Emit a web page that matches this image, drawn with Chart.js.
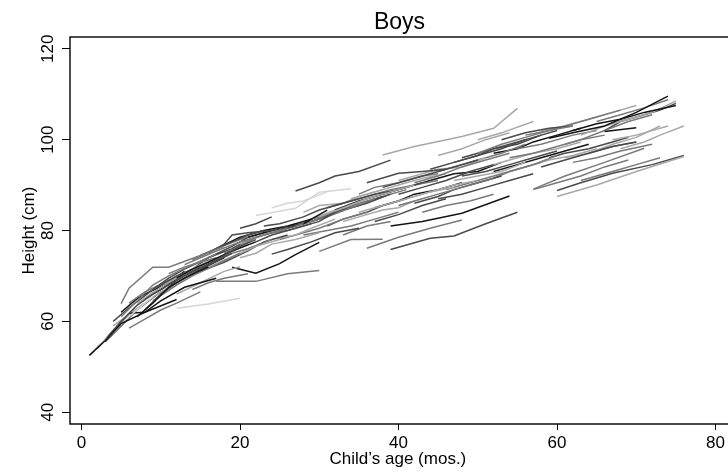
<!DOCTYPE html>
<html>
<head>
<meta charset="utf-8">
<script src="https://cdn.jsdelivr.net/npm/chart.js@4.4.1/dist/chart.umd.min.js"></script>
<style>
html,body{margin:0;padding:0;background:#fff;overflow:hidden;}
#wrap{width:728px;height:473px;}
</style>
</head>
<body>
<div id="wrap"><canvas id="c" width="728" height="473"></canvas></div>
<script>
const chartTitle = "Boys";
const xTitle = "Child\u2019s age (mos.)";
const yTitle = "Height (cm)";
const xTicks = [0, 20, 40, 60, 80];
const yTicks = [40, 60, 80, 100, 120];

// ages (months) of each child's measurements
const childAges = [
  [1,3,5,8,12],[1,2,4,6,9],[3,5,7,9,12,15],[5,7,9,11,14,17],[6,8,10,12,15],
  [5,6,9,11,15,18],[6,8,10,13,17],[7,9,11,13,16],[8,10,12,15,19],[9,12,14,17,20],
  [4,6,8,10,13],[10,12,14,17,20,22],[12,14,16,19,22],[13,15,17,20,23,26],[14,16,18,21],
  [16,18,20,22,25],[12,15,18,20],[15,17,19,21,23],[16,18,19,21,24,27],[18,20,22,25,28],
  [11,13,15,17],[20,22,24,27,30],[19,22,25,27,30],[17,22,26,30],[12,16,20],
  [22,24,27,30,32],[21,23,25,28,31],[22,27,30,34],[24,26,29,32,35],[25,28,31,34,37],
  [27,30,33,36,39],[28,31,34,37,40],[30,33,36,39,42],[31,34,37,40,43],[27,30,32,35,39],
  [30,34,38],[36,40,44,48],[39,43,48,54],[39,44,47,51,55],[33,36,39,42,45],
  [35,38,41,44,47],[36,40,43,46],[38,42,48,52,55],[40,43,46,49,52],[42,45,48,51,54],
  [41,44,47,50],[44,47,50,53,56],[46,49,52,55,58],[45,48,51,54],[48,51,54,57,60],
  [50,53,56,59,62],[47,50,53,56],[52,55,58,61,64],[53,56,59,62],[54,57,60,63,66],
  [56,59,62,65,68],[57,60,63,66,69],[58,61,64,67,70],[59,62,66,70,74],[60,65,70,76],
  [60,63,67,72,76],[57,61,66,71],[61,64,67,70,73],[62,65,68,71,75],[63,66,69,72,75],
  [64,67,70],[66,70],[65,68,71,74],[67,70,74],[55,58,62,65],
  [50,53,57],[43,46,49,52],[45,48,51,54,57],[33,36,39],[37,40,43,46],
  [2,4,6,8],[3,5,7,10],[7,10,13,16,19],[9,11,13,16,19,21],[14,17,20,23,26],
  [17,20,23,26,29],[20,23,26,29,32],[23,26,29,32,35],[26,29,32,35,38],[29,32,35,38,41],
  [32,35,38,41,44],[34,37,40,43,46],[38,41,44,47,50],[40,43,46,49,52],[48,51,54,57,60],
  [51,54,57,60,63],[58,61,64,67,70],[62,65,68,72],[24,26,28,31],[20,22,24],
  [44,47,50,53],
  [4,6,9,12,14],[6,8,11,14,16],[8,10,13,15,18],[10,13,15,18,21],[11,14,16,19,22],
  [13,16,18,21,24],[15,18,21,23,26],[19,21,24,26,29],[21,24,27,29,32],[23,25,28,30,33],
  [25,27,30,33,36],[28,30,33,35,38],[31,33,36,38,41],[35,37,40,43,45],[37,40,42,45,48],
  [40,42,45,48,51],[42,45,47,50,53],[45,48,50,53,56],[47,50,52,55,58],[49,52,54,57,60],
  [52,55,57,60,63],[54,56,59,62,65],[59,61,64,67,69],[61,63,66,69,72],[63,65,68,70,73],
  [66,68,71,73,75],[68,71,73,76],[33,35,38,40,42],[5,7,8,11,13]
];

// heights (cm) matching childAges
const childHeights = [
  [52.5,55.8,59.5,62,64.8],[52.5,54.5,57.5,61,65.5],[56,60,63.5,66,69,72],[61,64.5,68,70,72.5,74.8],[58.5,60.5,62.5,64,66.5],
  [63.9,67.3,71.9,71.9,74.5,76.5],[61.8,62,64.5,67.5,69.5],[61,64,67.5,69.5,72],[62.5,66,68.5,71.5,75],[64.5,68,70,72.5,75],
  [59,61.5,64,66.5,69.5],[66,69,71,73.5,76.5,78],[69.5,71.5,73,75.5,77.5],[72.5,74,75.5,77.5,79,80.5],[67,68.5,69.5,70.5],
  [72,73.5,75,76.5,78],[66,68.5,71,72],[74.5,76,77.5,79,80],[75,77,79,79.5,80,81],[75,76.5,78.5,80,81.5],
  [70.5,72,73,74],[74,75,77,78,79.5],[71.9,70.6,72.7,74.7,77.4],[68.8,68.8,70.5,71.2],[62.9,63.8,65.1],
  [77.5,79,80.5,82,84],[78.5,79.5,80.5,81.5,84.5],[83.3,84.9,88.4,89.2],[74.8,75.8,77.5,79.5,80.5],[80,81.5,83,85,87],
  [81,82.5,84.5,86,88],[79,80,81,82.5,84],[83,85,87,88.5,90],[85,86.5,88,89,90.5],[88.7,90.5,92,93,95.5],
  [75.4,78,78.1],[76.1,78.5,80.5,82.3],[81,82,83.8,87.6],[75.8,78.3,78.8,81.5,84],[86,87.5,89,90,91],
  [84,85.5,87,88.5,89.5],[90.5,92.6,93,93.5],[96.6,98.5,100.7,102.5,106.9],[88,89.5,91,93,94.5],[90.5,92,94,95.5,97],
  [87,88.5,90,91],[93.5,95,96.5,98,100],[89,90.5,92,93.5,95],[96.5,98,100,101.5],[92,93,94.5,96,97.5],
  [97,99,100.5,102,103],[91,92,93,95],[93,94.5,96,97.5,99],[100,101.5,102.5,103],[96,97,98.5,100,101],
  [101,102,103.5,105,106.5],[89,90.5,92,94,95.5],[94,95.5,97,98.5,99.5],[100.3,101.5,103,106,109.6],[87.5,90,93,96.3],
  [88.8,90.5,92.6,94.5,96.5],[89.1,92,95,98.1],[96,97,99,100.5,103],[102,103.5,104.5,106,107.5],[101,103,104.5,106,108.5],
  [97,98.5,99.5],[101.8,102.6],[104,105.5,107,108.8],[100,101,103],[98,99,101,102],
  [100,101.5,104],[84,85.5,86.5,88],[87,88,89.5,91,92.5],[79,81,82],[82,83.5,85.5,87],
  [54,58,61.5,64],[55.5,59,62.5,66.5],[64,67.5,70.5,73,75.5],[67,69.5,71.5,74,76.5,78.5],[73.5,76,78,79.5,81],
  [76,78.5,80,81,82.5],[77,79,80.5,82.5,84.5],[79,80.5,82,84,86],[80.5,82.5,84,85.5,87.5],[82,84,86,87.5,89],
  [84.5,86.5,88,89.5,91],[87,88.5,90,91.5,92.5],[89.5,91,92.5,94,95.5],[85.5,87,88.5,90,91.5],[96,97.5,99,100.5,102],
  [94,95.5,97,98,99.5],[102,103,104.5,106,107.5],[95,96,97.5,99],[85,86,86.5,88.5],[80.5,81.5,83],
  [91,92.5,93,95],
  [60,63,67,70,71.5],[64,66.5,69,71,72.5],[65,67,70.5,71.5,74],[68,70.5,72.5,74.5,77],[69,71.5,74,76,78.5],
  [70,72,74.5,76,78],[71,73,75.5,77.5,79],[76,78,79.5,80,81.5],[76,78,79,80.5,82.5],[81,81.5,83,84.5,86],
  [78,79,80.5,82.5,84],[84,85.5,86,87.5,89],[81,82.5,84,85.5,87],[88,89.5,90.5,92,92.5],[85,86.5,88,89,90.5],
  [91,92,93.5,94,96],[86,87.5,89,90.5,92],[93,94.5,95.5,97,99],[95,96.5,98,99,101],[90,91.5,93,94.5,96.5],
  [97,98,99.5,101,102.5],[93,94,95.5,96.5,98],[96,97,98,99.5,100.5],[99,100,102,104,105.5],[91,92,93.5,94.5,96],
  [102,104,105.5,106.5,108],[98,99.5,101,103],[82,83,84.5,85,86.5],[62,65,66,68.5,71]
];

// grey level per child (style only)
const childShades = [
  0,4,1,2,2, 2,0,0,1,2, 3,1,0,2,2, 3,3,1,1,2, 2,3,0,2,4,
  1,0,4,1,2, 1,2,3,1,1, 2,2,0,1,2, 3,1,3,1,2, 3,1,2,3,1,
  2,3,0,1,2, 2,2,1,0,3, 1,2,3,0,3, 2,0,2,3,2, 3,2,1,2,1,
  2,1,3,1,2, 0,3,2,1,2, 0,3,1,2,1, 3,3,2,4,1, 0,
  1,2,0,3,1, 2,1,2,3,1, 2,3,1,2,0, 3,1,2,1,2, 0,3,1,2,2, 1,3,3,0
];
const palette = ["#151515", "#4a4a4a", "#7a7a7a", "#a8a8a8", "#d6d6d6"];

const datasets = childAges.map((ages, i) => ({
  data: ages.map((a, j) => ({ x: a, y: childHeights[i][j] })),
  borderColor: palette[childShades[i]],
  borderWidth: 1.5,
  pointRadius: 0,
  tension: 0,
  fill: false
}));

const FONT = "'Liberation Sans', Arial, Helvetica, sans-serif";

const decor = {
  id: "decor",
  afterDatasetsDraw(chart) {
    const { ctx, chartArea: a, scales } = chart;
    ctx.save();
    ctx.strokeStyle = "#000";
    ctx.lineWidth = 1.4;
    ctx.strokeRect(a.left, a.top, a.right - a.left + 20, a.bottom - a.top);
    ctx.fillStyle = "#000";
    ctx.font = "17px " + FONT;
    ctx.textAlign = "center";
    ctx.textBaseline = "alphabetic";
    yTicks.forEach(v => {
      const py = scales.y.getPixelForValue(v);
      ctx.save();
      ctx.translate(52.5, py);
      ctx.rotate(-Math.PI / 2);
      ctx.fillText(String(v), 0, 0);
      ctx.restore();
    });
    ctx.save();
    ctx.translate(34, (a.top + a.bottom) / 2);
    ctx.rotate(-Math.PI / 2);
    ctx.fillText(yTitle, 0, 0);
    ctx.restore();
    ctx.font = "23px " + FONT;
    ctx.fillText(chartTitle, (a.left + 729) / 2, 29);
    ctx.restore();
  }
};

new Chart(document.getElementById("c"), {
  type: "line",
  data: { datasets },
  plugins: [decor],
  options: {
    responsive: false,
    animation: false,
    devicePixelRatio: 1,
    layout: { padding: { top: 37, left: 0, right: 0, bottom: 0 } },
    plugins: { legend: { display: false }, tooltip: { enabled: false }, title: { display: false } },
    scales: {
      x: {
        type: "linear",
        min: -1.45,
        max: 81.3,
        afterBuildTicks: s => { s.ticks = xTicks.map(v => ({ value: v })); },
        afterFit: s => { s.height = 49; },
        border: { display: false },
        grid: { display: true, drawOnChartArea: false, drawTicks: true, tickLength: 6, tickColor: "#000", tickWidth: 1 },
        ticks: { color: "#000", font: { size: 17, family: FONT }, padding: 3, maxRotation: 0, autoSkip: false },
        title: { display: true, text: xTitle, color: "#000", font: { size: 17, family: FONT }, padding: { top: 0, bottom: 3 } }
      },
      y: {
        type: "linear",
        min: 37.4,
        max: 122.6,
        afterBuildTicks: s => { s.ticks = yTicks.map(v => ({ value: v })); },
        afterFit: s => { s.width = 70; },
        border: { display: false },
        grid: { display: true, drawOnChartArea: false, drawTicks: true, tickLength: 8, tickColor: "#000", tickWidth: 1 },
        ticks: { display: false }
      }
    }
  }
});
</script>
</body>
</html>
